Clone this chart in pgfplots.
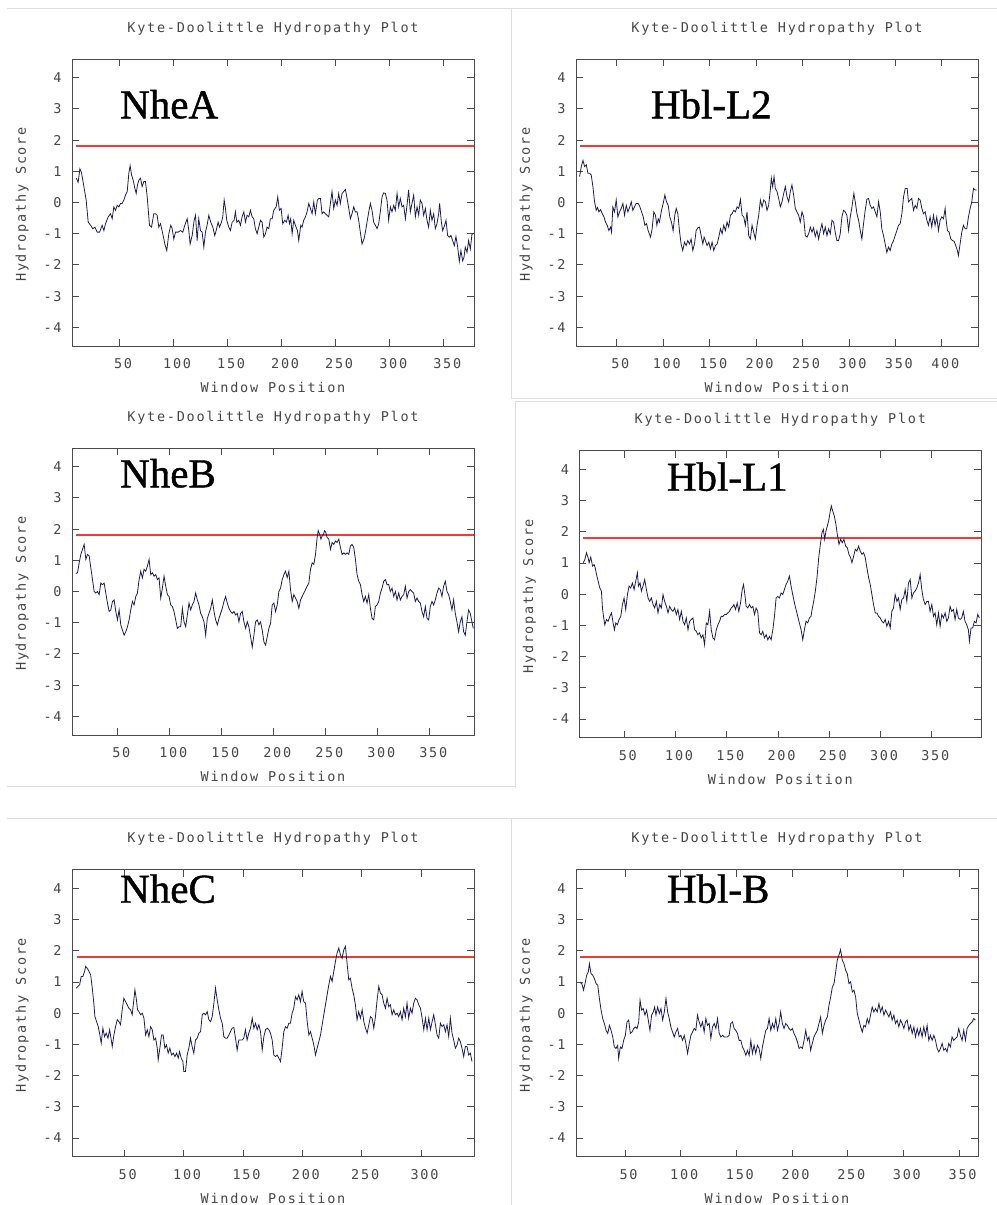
\documentclass[border=0pt]{standalone}
\usepackage{fontspec}
\usepackage{pgfplots}
\pgfplotsset{compat=1.18}
\newfontfamily\monof[LetterSpace=13]{DejaVu Sans Mono}
\newfontfamily\labf[FakeBold=1]{Liberation Serif}
\definecolor{txtgray}{RGB}{70,70,70}
\definecolor{framegray}{RGB}{75,75,75}
\definecolor{curve}{RGB}{28,28,84}
\definecolor{thr}{RGB}{238,60,48}
\definecolor{sep}{RGB}{222,222,222}
\newcommand{\mf}{\monof\fontsize{13.5bp}{15bp}\selectfont}
\newcommand{\panellab}{\labf\fontsize{41bp}{41bp}\selectfont}
\pgfplotsset{
  kd/.style={
    scale only axis, width=402bp, height=287bp, anchor=south west,
    xmin=6, ymin=-4.6, ymax=4.6,
    ytick={-4,-3,-2,-1,0,1,2,3,4},
    yticklabels={-4,-3,-2,-1,0,1,2,3,4},
    axis line style={framegray, line width=0.9bp},
    every tick/.style={framegray, line width=0.9bp},
    major tick length=7bp,
    tick align=inside,
    xticklabel style={font=\mf, text=txtgray, anchor=base, inner sep=0pt, yshift=-22.3bp, xshift=3.5bp},
    yticklabel style={font=\mf, text=txtgray, anchor=east, inner sep=0pt, xshift=-10.2bp},
    title={Kyte-Doolittle Hydropathy Plot},
    title style={font=\mf, text=txtgray, at={(axis description cs:0.5,1.0732)}, anchor=base, inner sep=0pt},
    xlabel={Window Position},
    xlabel style={font=\mf, text=txtgray, at={(axis description cs:0.5,-0.162)}, anchor=base, inner sep=0pt},
    ylabel={Hydropathy Score},
    ylabel style={font=\mf, text=txtgray, at={(axis description cs:-0.115,0.493)}, anchor=base, inner sep=0pt},
    clip=true,
  },
  kdline/.style={curve, line width=0.8bp, no marks},
  thrline/.style={thr, line width=1.9bp, no marks},
}
\begin{document}
\begin{tikzpicture}
\useasboundingbox (0bp,0bp) rectangle (997bp,-1205bp);
% faint screenshot separators
\draw[sep, line width=0.8bp] (7bp,-8.3bp) -- (997bp,-8.3bp);
\draw[sep, line width=0.8bp] (511.7bp,-8.3bp) -- (511.7bp,-398bp) -- (997bp,-398bp);
\draw[sep, line width=0.8bp] (515bp,-788bp) -- (515bp,-401bp) -- (997bp,-401bp);
\draw[sep, line width=0.8bp] (7bp,-786.7bp) -- (515bp,-786.7bp);
\draw[sep, line width=0.8bp] (7bp,-818.3bp) -- (997bp,-818.3bp);
\draw[sep, line width=0.8bp] (511.7bp,-818.3bp) -- (511.7bp,-1205bp);

% ---------------- NheA ----------------
\begin{axis}[kd, at={(72bp,-346bp)}, xmax=378,
  xtick={50,100,150,200,250,300,350}, xticklabels={50,100,150,200,250,300,350}]
\addplot[thrline] coordinates {(10,1.8) (378,1.8)};
\addplot[kdline] table {
9.9 0.78
11.7 0.65
13.3 1.08
14.8 0.96
17.0 0.51
19.1 0.08
21.0 -0.63
23.2 -0.73
25.3 -0.84
27.2 -0.79
29.3 -0.95
31.5 -0.95
33.9 -0.73
35.5 -0.90
37.0 -0.68
39.5 -0.46
41.7 -0.36
43.2 -0.52
44.7 -0.14
46.3 -0.25
47.8 -0.09
49.4 -0.14
50.9 -0.03
52.4 -0.03
54.0 0.08
55.5 0.24
57.1 0.35
58.6 0.94
59.8 1.18
61.1 0.88
62.6 0.72
64.2 0.45
65.4 0.29
66.6 0.56
67.9 0.72
69.4 0.78
70.9 0.51
72.5 0.67
74.0 0.67
75.6 0.18
77.7 -0.73
79.6 -0.79
81.7 -0.36
83.3 -0.36
84.8 -0.41
86.3 -0.79
87.9 -0.68
90.0 -1.00
91.9 -1.33
93.7 -1.54
95.6 -1.00
97.4 -0.73
98.7 -0.84
100.2 -1.17
101.8 -0.95
104.2 -0.95
106.4 -0.90
108.5 -0.95
110.4 -0.73
112.6 -0.52
114.1 -0.90
115.3 -1.33
117.2 -1.06
119.0 -0.57
120.3 -0.41
121.8 -1.22
123.3 -0.52
124.9 -0.90
126.4 -0.95
128.0 -1.43
129.5 -0.95
131.0 -0.73
132.6 -0.41
134.4 -0.63
136.3 -0.79
138.1 -1.06
139.4 -0.90
141.2 -0.63
142.5 -0.79
144.3 -0.63
145.5 -0.46
146.8 0.08
148.0 -0.19
149.2 -0.57
151.1 -0.79
152.6 -0.90
154.2 -0.63
156.0 -0.57
157.2 -0.30
158.5 -0.63
160.3 -0.57
161.9 -0.73
163.4 -0.46
165.0 -0.30
166.5 -0.63
168.0 -0.41
169.6 -0.46
171.1 -0.25
172.7 -0.46
174.2 -0.52
175.7 -0.84
177.3 -1.00
178.8 -0.79
180.4 -0.57
181.9 -0.63
183.5 -1.11
185.0 -1.00
186.5 -0.79
188.1 -0.84
189.6 -0.52
191.2 -0.52
192.7 -0.25
194.9 -0.14
196.4 0.18
197.9 -0.25
199.5 -0.19
201.0 -0.68
202.9 -0.57
204.4 -0.63
206.0 -0.41
207.2 -0.68
208.4 -0.52
209.7 -1.00
211.2 -0.57
212.7 -0.73
214.6 -0.90
215.8 -1.22
217.7 -0.73
218.9 -0.79
220.4 -0.57
222.0 -0.46
223.5 -0.30
225.1 -0.03
226.6 -0.19
228.2 -0.36
229.7 0.02
231.2 -0.36
233.1 0.08
234.3 0.13
235.9 0.13
237.4 -0.36
238.9 -0.30
240.5 -0.36
242.0 -0.41
243.6 -0.46
245.1 -0.03
246.6 0.35
248.2 -0.19
249.7 0.08
251.3 -0.09
252.8 0.29
254.3 -0.03
255.9 0.29
257.4 0.35
259.0 0.42
260.8 0.08
262.1 -0.19
263.6 -0.52
265.1 -0.36
266.7 -0.14
268.2 -0.30
269.8 -0.30
271.3 -0.57
272.8 -0.95
274.4 -1.33
276.2 -1.17
277.5 -0.95
279.0 -0.63
280.6 -0.30
282.1 -0.03
283.6 -0.25
285.2 -0.63
286.7 -0.73
288.3 -0.84
289.8 -0.68
291.3 -0.30
292.9 0.18
294.4 0.31
296.0 0.29
297.5 0.08
299.0 -0.57
300.6 -0.14
302.1 -0.30
303.7 -0.09
305.2 -0.25
306.8 0.29
308.3 -0.14
309.8 0.13
311.4 -0.14
312.9 -0.09
314.5 -0.52
316.0 -0.09
317.5 0.40
319.1 -0.30
320.6 -0.03
322.2 0.24
323.7 -0.46
325.3 -0.14
326.8 -0.41
328.3 0.08
329.9 -0.03
331.4 -0.41
333.0 -0.19
334.5 -0.57
336.0 -0.79
337.6 -0.25
339.1 -0.57
340.7 -0.36
342.2 -0.84
343.7 -0.68
345.3 -0.36
346.2 -0.03
347.8 -0.63
349.0 -0.90
350.8 -0.73
352.1 -0.57
353.6 -1.06
355.2 -1.11
356.7 -1.06
358.2 -1.22
359.8 -1.38
361.3 -1.09
362.9 -1.43
364.4 -1.89
365.9 -1.54
367.5 -1.87
368.7 -1.76
369.9 -1.43
371.5 -1.60
373.0 -1.22
374.6 -1.49
376.1 -1.02
377.5 -0.98
};
\end{axis}

% ---------------- Hbl-L2 ----------------
\begin{axis}[kd, at={(576bp,-346bp)}, xmax=439,
  xtick={50,100,150,200,250,300,350,400}, xticklabels={50,100,150,200,250,300,350,400}]
\addplot[thrline] coordinates {(10,1.8) (439,1.8)};
\addplot[kdline] table {
9.9 0.83
11.7 1.15
13.5 1.35
15.3 1.15
17.1 1.21
18.8 0.94
20.6 0.94
22.4 0.88
24.2 0.51
26.0 0.02
27.8 -0.25
29.2 -0.16
30.7 -0.30
32.5 -0.23
34.3 -0.36
36.1 -0.46
37.8 -0.63
39.6 -0.73
41.4 -0.90
43.2 -0.79
44.3 -0.95
45.7 -0.14
47.5 -0.30
49.3 0.08
51.1 -0.46
52.9 -0.30
54.7 -0.19
56.5 -0.03
58.3 -0.41
60.1 -0.09
61.9 -0.30
63.7 -0.16
65.5 0.02
67.2 -0.25
69.0 -0.14
70.8 -0.03
73.0 -0.03
74.8 -0.14
76.6 -0.30
78.4 -0.46
80.2 -0.73
82.0 -0.68
83.7 -0.90
86.3 -1.11
88.0 -0.84
89.8 -0.30
91.6 -0.41
93.1 -0.73
94.5 -0.52
95.9 -0.63
98.1 -0.25
99.9 -0.03
101.7 0.24
103.5 0.02
105.3 -0.09
107.0 -0.46
108.8 -0.63
110.6 -0.90
112.4 -0.41
113.9 -0.19
115.7 -0.36
117.4 -0.90
119.2 -1.33
121.0 -1.54
122.8 -1.27
124.6 -1.38
126.4 -1.22
128.2 -1.33
130.0 -1.17
131.8 -1.54
133.6 -1.33
135.4 -0.90
137.2 -0.81
139.0 -0.79
140.8 -1.06
142.6 -1.33
144.0 -1.11
145.4 -1.22
147.2 -1.38
149.0 -1.27
150.8 -1.49
152.6 -1.27
154.4 -1.54
156.2 -1.38
158.0 -1.33
159.8 -1.11
161.6 -0.84
163.4 -1.00
165.1 -0.73
166.9 -0.90
168.7 -0.63
170.5 -0.79
172.3 -0.41
174.1 -0.36
175.9 -0.25
177.7 -0.30
179.5 -0.14
181.3 -0.19
183.1 0.10
184.9 -0.41
186.7 -0.46
188.4 -0.73
190.2 -0.30
192.0 -1.06
193.8 -1.17
195.6 -0.73
197.4 -0.95
199.2 -1.17
201.0 -0.73
202.8 -0.41
204.6 0.08
206.4 -0.14
208.2 0.08
210.0 0.02
211.7 -0.25
213.5 -0.09
215.3 0.40
216.4 0.78
217.8 0.51
219.3 0.83
220.7 0.45
222.5 0.35
224.3 0.13
226.1 -0.14
227.9 0.02
229.7 0.29
231.5 0.51
233.3 0.18
235.1 0.02
236.8 0.35
238.6 0.56
240.4 0.24
242.2 -0.19
244.0 -0.30
245.8 -0.41
247.6 -0.63
249.4 -0.30
251.2 -0.46
253.0 -1.06
254.8 -1.11
256.6 -1.00
258.4 -0.79
260.2 -0.95
261.9 -0.81
263.7 -1.09
265.5 -0.90
267.3 -1.17
269.1 -0.90
270.9 -0.68
272.7 -1.00
274.5 -0.79
276.3 -1.06
278.1 -0.84
279.9 -1.00
281.7 -0.57
283.5 -0.63
285.2 -0.95
287.0 -1.22
288.8 -1.22
290.6 -1.00
292.4 -0.46
294.2 -0.25
296.0 -0.30
297.8 -0.41
299.6 -0.90
301.4 -0.46
303.2 -0.14
305.3 0.29
306.8 0.02
308.6 -0.36
310.4 -0.57
312.2 -0.90
313.9 -1.17
315.7 -0.68
317.5 -0.25
319.3 0.10
321.1 0.13
322.9 -0.09
324.7 -0.19
326.5 -0.14
328.3 -0.30
330.1 -0.46
331.9 0.02
333.7 -0.30
335.4 -0.84
337.2 -1.06
339.0 -1.33
340.8 -1.60
342.6 -1.43
344.4 -1.54
346.2 -1.33
348.0 -1.22
349.8 -1.06
351.6 -0.90
353.4 -0.73
355.2 -0.68
357.0 -0.36
358.8 0.18
360.6 0.45
362.7 0.45
364.1 0.02
365.9 0.08
367.7 0.13
369.5 -0.25
371.3 -0.09
373.1 -0.19
374.9 0.13
376.7 0.08
378.5 -0.19
380.3 -0.36
382.1 -0.30
383.9 -0.57
385.6 -0.73
387.4 -0.46
389.2 -0.79
391.0 -0.41
392.8 -0.73
394.6 -0.46
396.4 -0.90
398.2 -0.57
400.0 -0.46
401.8 -0.52
403.6 -0.19
404.7 -0.57
406.1 -0.90
407.9 -0.95
409.7 -1.17
411.5 -1.22
413.2 -1.24
415.0 -1.38
416.8 -1.54
417.9 -1.70
419.7 -1.33
421.5 -0.95
423.3 -0.73
425.1 -0.84
426.9 -0.84
428.7 -0.46
430.5 -0.19
432.3 0.02
434.1 0.45
435.9 0.40
437.6 0.40
};
\end{axis}

% ---------------- NheB ----------------
\begin{axis}[kd, at={(72bp,-735bp)}, xmax=392.5,
  xtick={50,100,150,200,250,300,350}, xticklabels={50,100,150,200,250,300,350}]
\addplot[thrline] coordinates {(10,1.8) (392.5,1.8)};
\addplot[kdline] table {
9.7 0.58
11.3 0.60
12.9 0.92
14.5 1.19
16.1 1.35
17.7 1.51
19.3 1.03
20.9 1.19
22.5 1.14
24.1 0.76
25.7 0.38
27.3 0.00
28.9 -0.05
30.5 0.00
32.1 -0.10
33.7 0.27
35.3 0.22
36.9 0.27
38.5 -0.05
40.1 -0.37
41.7 -0.64
43.3 -0.59
44.9 -0.32
46.5 -0.27
48.1 -0.64
49.7 -0.91
51.3 -0.59
52.9 -1.07
54.5 -1.24
56.1 -1.40
57.7 -1.29
59.3 -1.13
60.9 -0.91
62.5 -0.59
64.1 -0.32
65.7 -0.43
67.3 -0.16
68.9 -0.05
70.5 0.38
72.1 0.65
73.7 0.44
75.3 0.71
76.9 0.65
78.5 0.81
80.1 1.03
81.7 0.54
83.3 0.60
84.9 0.49
86.5 0.54
88.1 0.38
89.7 0.44
91.3 -0.21
92.9 0.11
94.5 0.49
96.1 0.17
97.7 -0.10
99.3 -0.16
100.9 -0.43
102.5 -0.48
104.1 -0.64
105.7 -0.91
107.3 -1.18
108.9 -1.13
110.5 -1.13
112.1 -0.54
113.7 -0.97
115.3 -1.13
116.9 -0.75
118.5 -0.37
120.1 -0.59
121.7 -0.43
123.3 -0.32
124.9 -0.05
126.5 -0.27
128.1 -0.43
129.7 -0.70
131.3 -0.81
132.9 -0.97
134.5 -1.40
136.1 -0.86
137.7 -0.70
139.3 -0.54
140.9 -0.27
142.5 -0.64
144.1 -0.91
145.7 -1.07
147.3 -0.86
148.9 -0.70
150.5 -0.54
152.1 -0.32
153.7 -0.16
155.3 -0.37
156.9 -0.54
158.5 -0.64
160.1 -0.70
161.7 -0.64
163.3 -0.75
164.9 -0.70
166.5 -0.97
168.1 -0.70
169.7 -0.64
171.3 -0.97
172.9 -1.18
174.5 -0.97
176.1 -1.13
177.7 -1.45
179.3 -1.78
180.9 -1.40
182.5 -0.97
184.1 -0.91
185.7 -1.07
187.3 -0.97
188.9 -1.24
190.5 -1.61
192.1 -1.72
193.7 -1.45
195.3 -1.18
196.9 -1.02
198.5 -0.43
200.1 -0.37
201.7 -0.64
203.3 -0.43
204.9 0.00
206.5 0.11
208.1 0.38
209.7 0.54
211.3 0.65
212.9 0.44
214.5 0.65
216.1 0.06
217.7 -0.32
219.3 -0.10
220.9 -0.21
222.5 -0.32
224.1 -0.54
225.7 -0.27
227.3 -0.16
228.9 -0.05
230.5 0.06
232.1 0.17
233.7 0.27
235.3 0.71
236.9 0.92
238.5 0.87
240.1 1.19
241.7 1.73
242.7 1.95
244.0 1.84
245.3 1.68
246.6 1.78
247.9 1.84
248.8 1.95
249.8 1.91
251.3 1.73
252.9 1.68
254.5 1.35
256.1 1.57
257.7 1.51
259.3 1.62
260.9 1.57
262.5 1.68
264.1 1.41
265.7 1.19
267.3 1.24
268.9 1.19
270.5 1.24
272.1 1.19
273.7 1.46
275.3 1.51
276.9 1.41
278.5 1.03
280.1 0.54
281.7 0.33
283.3 0.22
284.9 -0.10
286.5 -0.32
288.1 -0.16
289.7 -0.37
291.3 -0.10
292.9 -0.54
294.5 -0.86
296.1 -0.91
297.7 -0.48
299.3 -0.43
300.9 -0.32
302.5 -0.05
304.1 0.11
305.7 0.33
307.3 0.38
308.9 0.22
310.5 0.22
312.1 0.00
313.7 0.11
315.3 -0.16
316.9 0.00
318.5 -0.27
320.1 -0.05
321.7 -0.27
323.3 -0.16
324.9 -0.10
326.5 0.17
328.1 -0.21
329.7 0.00
331.3 0.06
332.9 0.00
334.5 -0.05
336.1 -0.32
337.7 -0.21
339.3 -0.32
340.9 -0.37
342.5 -0.64
344.1 -0.81
345.7 -0.48
347.3 -0.86
348.9 -0.91
350.5 -0.48
352.1 -0.32
353.7 -0.43
355.3 -0.27
356.9 -0.05
358.5 0.11
360.1 0.06
361.7 -0.16
363.3 0.17
364.9 0.33
366.5 0.00
368.1 -0.10
369.7 -0.32
371.3 -0.59
372.9 -0.27
374.5 -0.70
376.1 -0.97
377.7 -1.29
379.3 -0.97
380.9 -0.81
382.5 -1.29
384.1 -1.40
385.7 -0.97
387.3 -0.59
388.9 -0.70
390.5 -0.97
391.8 -1.18
};
\end{axis}

% ---------------- Hbl-L1 ----------------
\begin{axis}[kd, at={(579.3bp,-737.7bp)}, xmax=398.4,
  xtick={50,100,150,200,250,300,350}, xticklabels={50,100,150,200,250,300,350}]
\addplot[thrline] coordinates {(10,1.8) (398.4,1.8)};
\addplot[kdline] table {
9.8 1.01
11.4 1.11
13.0 1.33
14.6 1.17
15.6 1.01
17.2 1.19
18.9 0.90
20.5 0.95
21.5 0.85
22.8 0.63
24.4 0.42
26.0 0.20
27.6 0.10
28.6 -0.44
29.6 -0.71
30.9 -0.98
32.5 -0.81
34.1 -0.87
35.8 -0.71
37.4 -0.60
39.0 -0.92
40.3 -1.14
41.6 -0.92
43.2 -0.98
44.8 -0.81
46.5 -0.71
48.1 -0.33
49.7 -0.12
51.3 -0.49
53.0 -0.01
54.6 0.26
56.2 0.20
57.8 0.36
59.5 0.15
61.1 0.42
62.7 0.69
63.7 0.26
65.3 0.36
66.6 0.10
68.2 0.26
69.8 0.47
71.5 0.15
73.1 -0.12
74.7 -0.23
76.3 -0.12
78.0 -0.33
79.6 -0.44
81.2 -0.23
82.8 -0.60
84.5 -0.33
86.1 -0.44
87.7 -0.01
89.3 -0.23
91.0 -0.39
92.6 -0.60
94.2 -0.39
95.8 -0.49
97.4 -0.55
99.1 -0.44
100.7 -0.65
102.3 -0.49
103.9 -0.81
105.6 -0.55
107.2 -0.87
108.8 -0.98
110.4 -0.76
112.1 -1.14
113.7 -0.87
115.3 -0.81
116.9 -0.76
118.6 -1.14
120.2 -1.19
121.8 -1.30
123.4 -1.24
125.0 -1.40
126.7 -1.30
128.3 -1.62
129.9 -0.92
131.5 -0.98
133.2 -0.55
134.8 -1.14
136.4 -1.40
138.0 -1.46
139.7 -1.14
141.3 -0.98
142.9 -0.87
144.5 -0.71
146.2 -0.71
147.8 -0.65
149.4 -0.65
151.0 -0.60
152.6 -0.55
154.3 -0.44
155.9 -0.39
156.9 -0.33
158.5 -0.49
160.1 -0.28
161.7 -0.55
163.4 -0.28
165.0 0.15
166.3 0.31
167.6 -0.01
168.9 -0.39
170.5 -0.44
172.1 -0.33
173.8 -0.44
175.4 -0.39
177.0 -0.65
178.6 -0.44
180.2 -0.55
181.9 -1.24
183.5 -1.30
185.1 -1.19
186.7 -1.40
188.4 -1.30
190.0 -1.46
191.6 -1.35
193.2 -1.46
194.9 -1.14
196.5 -0.71
198.1 -0.12
199.7 -0.07
201.3 -0.12
203.0 0.04
204.6 -0.01
206.2 0.15
207.8 0.31
209.5 0.42
211.1 0.58
212.7 0.26
214.3 -0.01
216.0 -0.28
217.6 -0.49
219.2 -0.71
220.8 -0.92
222.5 -1.14
224.1 -1.46
225.7 -1.14
227.3 -0.87
229.0 -0.92
230.6 -0.76
232.2 -0.71
233.2 -0.49
234.8 -0.23
236.4 0.10
238.0 0.53
239.7 1.17
241.3 1.60
242.9 1.97
244.2 2.08
245.5 1.76
246.8 2.03
248.1 2.19
249.4 2.35
251.0 2.67
252.0 2.83
253.3 2.67
254.9 2.51
256.5 2.24
257.8 1.92
259.5 1.60
261.1 1.76
262.7 1.65
264.3 1.76
266.0 1.54
267.6 1.49
269.2 1.28
270.8 1.17
272.1 1.01
273.8 1.22
275.4 1.44
277.0 1.38
278.6 1.54
280.2 1.38
281.9 1.28
283.5 1.33
285.1 1.17
286.7 0.85
288.4 0.53
290.0 0.31
291.6 -0.01
293.2 -0.33
294.9 -0.60
296.5 -0.60
298.1 -0.71
299.7 -0.76
301.4 -0.87
303.0 -0.92
304.6 -0.81
306.2 -1.03
307.9 -0.87
309.5 -1.08
311.1 -0.55
312.7 -0.44
314.3 -0.01
316.0 -0.23
317.6 -0.12
319.2 -0.49
320.8 -0.17
322.5 -0.12
324.1 0.15
325.7 -0.23
327.3 0.36
329.0 0.47
330.6 -0.12
332.2 0.04
333.8 0.10
335.4 0.20
337.1 0.36
338.7 0.63
340.3 0.15
341.9 -0.17
343.6 -0.33
345.2 -0.23
346.8 -0.23
348.4 -0.55
350.1 -0.33
351.7 -0.71
353.3 -0.60
354.9 -0.98
356.6 -0.60
358.2 -1.03
359.8 -0.65
361.4 -0.76
363.1 -0.60
364.7 -0.87
366.3 -0.76
367.9 -0.39
369.5 -0.55
371.2 -0.49
372.8 -0.81
374.4 -0.49
376.0 -0.76
377.7 -0.81
379.3 -0.76
380.9 -0.55
382.5 -0.87
384.2 -0.98
385.8 -1.14
386.8 -1.51
388.4 -1.08
390.0 -1.08
391.6 -0.87
393.3 -0.92
394.9 -0.65
396.5 -0.76
};
\end{axis}

% ---------------- NheC ----------------
\begin{axis}[kd, at={(72bp,-1156.7bp)}, xmax=344.6,
  xtick={50,100,150,200,250,300}, xticklabels={50,100,150,200,250,300}]
\addplot[thrline] coordinates {(10,1.8) (344.6,1.8)};
\addplot[kdline] table {
9.6 0.80
11.0 0.86
12.4 0.91
13.8 1.18
15.2 1.18
16.6 1.34
17.5 1.50
18.9 1.44
20.3 1.34
21.7 1.23
23.1 0.80
24.5 0.27
25.3 -0.11
26.7 -0.27
28.1 -0.43
29.5 -0.70
30.6 -0.96
32.0 -0.48
33.4 -0.75
34.8 -0.64
36.3 -0.80
37.7 -0.53
39.1 -0.86
39.9 -1.07
41.3 -0.70
42.7 -0.43
44.1 -0.21
45.5 -0.27
46.9 -0.37
48.3 0.11
49.7 0.48
51.1 0.37
52.5 0.27
53.9 0.16
55.3 0.11
56.7 -0.05
58.1 0.43
59.0 0.75
60.1 0.48
61.2 0.11
62.4 0.05
63.8 -0.05
65.2 0.00
66.6 -0.16
68.0 -0.70
69.4 -0.53
70.8 -0.75
72.2 -0.43
73.6 -0.53
75.0 -0.86
76.4 -0.80
77.8 -1.12
78.6 -1.50
80.0 -1.12
81.4 -0.70
82.8 -0.70
84.2 -1.12
85.6 -1.02
87.0 -1.28
88.4 -1.12
89.9 -1.34
91.3 -1.28
92.7 -1.39
94.1 -1.28
95.5 -1.44
96.6 -1.23
98.0 -1.44
99.4 -1.55
100.2 -1.87
101.6 -1.87
103.0 -1.34
104.4 -1.12
105.8 -0.80
107.2 -1.07
108.6 -1.28
110.0 -0.86
111.5 -0.80
112.9 -0.64
114.3 -0.59
115.7 -0.05
117.1 0.00
118.5 -0.05
119.9 0.05
121.3 -0.21
122.7 -0.27
124.1 -0.11
125.5 0.32
126.9 0.80
128.3 0.43
129.7 0.11
131.1 -0.16
132.5 -0.32
133.9 -0.75
135.3 -0.80
136.7 -0.80
138.1 -0.70
139.5 -0.59
140.9 -0.48
142.3 -0.46
143.7 -0.80
145.1 -1.18
146.5 -0.86
147.9 -0.86
149.3 -0.86
150.7 -0.80
152.1 -0.53
153.5 -0.86
154.9 -0.64
156.4 -0.48
157.8 -0.16
159.2 -0.48
160.6 -0.32
162.0 -0.53
163.4 -0.37
164.8 -0.59
166.2 -1.18
167.6 -0.75
169.0 -0.53
170.4 -0.48
171.8 -0.53
173.2 -0.64
174.6 -0.86
176.0 -1.34
177.4 -1.39
178.8 -1.34
180.2 -1.44
181.6 -1.55
183.0 -1.12
184.4 -0.59
185.8 -0.43
187.2 -0.48
188.6 -0.32
190.0 -0.32
191.4 0.00
192.8 0.16
194.2 0.53
195.6 0.43
197.0 0.59
198.4 0.37
199.8 0.70
201.2 0.37
202.7 0.32
204.1 -0.27
205.5 -0.70
206.9 -0.59
208.3 -0.80
209.7 -1.02
211.1 -1.34
212.5 -1.12
213.9 -0.91
215.3 -0.70
216.7 -0.37
218.1 -0.05
219.5 0.27
220.9 0.59
222.3 0.91
223.7 1.18
225.1 1.02
226.5 1.34
227.9 1.66
229.3 1.93
230.7 2.09
232.1 1.87
233.5 1.76
234.9 2.03
236.3 2.14
237.7 1.60
239.1 1.07
240.5 1.12
241.9 0.80
243.3 0.59
244.7 0.27
246.1 -0.21
247.5 0.05
248.9 -0.16
250.4 0.11
251.8 -0.27
253.2 -0.48
254.6 -0.64
256.0 -0.37
257.4 -0.11
258.8 -0.16
260.2 -0.48
261.6 -0.11
263.0 0.43
264.4 0.86
265.8 0.64
267.2 0.59
268.6 0.32
270.0 0.16
271.4 0.48
272.8 0.21
274.2 0.27
275.6 -0.05
277.0 0.11
278.4 -0.05
279.8 0.00
281.2 -0.11
282.6 0.05
284.0 -0.21
285.4 0.16
286.8 -0.11
288.2 0.32
289.6 -0.16
291.0 0.16
292.4 0.00
293.8 0.32
295.2 0.48
296.6 0.43
298.1 0.27
299.5 0.16
300.9 -0.16
302.3 -0.53
303.7 -0.16
305.1 -0.53
306.5 -0.16
307.9 -0.53
309.3 -0.27
310.7 -0.05
312.1 -0.37
313.5 -0.70
314.9 -0.80
316.3 -0.32
317.7 -0.43
319.1 -0.37
320.5 -0.59
321.9 -0.37
323.3 -0.75
324.7 -0.16
326.1 -0.64
327.5 -0.86
328.9 -1.12
330.3 -1.02
331.7 -0.80
333.1 -0.91
334.5 -1.12
335.9 -1.39
337.3 -1.07
338.7 -1.07
340.1 -1.34
341.5 -1.28
342.9 -1.55
};
\end{axis}

% ---------------- Hbl-B ----------------
\begin{axis}[kd, at={(576bp,-1156.7bp)}, xmax=367,
  xtick={50,100,150,200,250,300,350}, xticklabels={50,100,150,200,250,300,350}]
\addplot[thrline] coordinates {(10,1.8) (367,1.8)};
\addplot[kdline] table {
9.7 0.98
11.2 0.95
12.7 0.74
14.1 0.95
15.6 1.22
17.1 1.33
18.0 1.59
19.5 1.27
21.0 1.22
22.5 1.11
24.0 0.95
25.5 0.90
27.0 0.47
28.5 0.10
30.0 -0.17
31.5 -0.33
33.0 -0.55
34.5 -0.65
36.0 -0.39
37.5 -0.55
39.0 -0.76
40.4 -1.08
41.9 -1.13
43.4 -1.03
44.3 -1.45
45.8 -1.08
47.3 -1.13
48.8 -0.87
50.3 -0.71
51.8 -0.28
53.3 -0.22
54.8 -0.65
56.3 -0.60
57.8 -0.49
59.3 -0.44
60.8 -0.49
62.3 -0.28
63.5 0.42
64.9 0.10
66.4 0.15
67.9 -0.06
69.4 0.10
70.9 -0.22
72.4 -0.55
73.9 -0.06
75.4 0.04
76.6 0.20
77.8 -0.06
79.3 0.20
80.8 -0.01
82.3 0.15
83.8 -0.22
85.3 0.04
86.8 0.47
88.3 0.04
89.7 -0.17
91.2 -0.44
92.7 -0.60
94.2 -0.76
95.7 -0.60
97.2 -0.49
98.7 -0.76
100.2 -0.71
101.7 -0.87
103.2 -0.71
104.7 -0.97
106.2 -1.29
107.7 -0.97
109.2 -0.71
110.7 -0.60
112.2 -0.49
113.6 -0.55
115.1 -0.06
116.6 -0.28
118.1 -0.44
119.6 -0.28
121.1 -0.60
122.6 -0.17
124.1 -0.39
125.6 -0.33
127.1 -0.81
128.6 -0.44
130.1 -0.33
131.6 -0.49
133.1 -0.17
134.6 -0.65
136.1 -0.76
137.6 -0.71
139.0 -0.76
140.5 -0.76
142.0 -0.76
143.5 -0.71
145.0 -0.33
146.5 -0.28
148.0 -0.49
149.5 -0.55
151.0 -0.65
152.5 -0.87
154.0 -0.87
155.5 -1.08
157.0 -1.19
158.5 -1.35
160.0 -1.19
161.5 -1.35
163.0 -0.87
164.4 -1.29
165.9 -1.03
167.4 -1.29
168.9 -1.03
170.4 -1.13
171.9 -1.45
173.4 -1.08
174.9 -0.81
176.4 -0.55
177.9 -0.49
179.4 -0.17
180.9 -0.55
182.4 -0.33
183.9 -0.49
185.4 -0.17
186.9 -0.55
188.4 -0.33
189.8 0.04
191.3 -0.33
192.8 -0.49
194.3 -0.33
195.8 -0.39
197.3 -0.49
198.8 -0.55
200.3 -0.49
201.8 -0.65
203.3 -0.76
204.8 -0.92
206.3 -1.13
207.8 -1.08
209.3 -1.13
210.8 -0.87
212.3 -0.55
213.8 -0.87
215.2 -0.76
216.7 -1.19
218.2 -0.97
219.7 -0.76
221.2 -0.65
222.7 -0.55
224.2 -0.33
225.7 -0.12
227.2 -0.65
228.7 -0.39
230.2 -0.22
231.7 -0.12
233.2 0.26
234.7 0.52
236.2 0.84
237.7 0.95
239.2 1.33
240.6 1.70
242.1 1.86
243.6 2.04
245.1 1.70
246.6 1.59
248.1 1.38
249.6 1.27
251.1 0.95
252.6 1.01
254.1 0.68
255.6 0.74
257.1 0.52
258.6 -0.01
260.1 -0.22
261.6 -0.44
263.1 -0.60
264.5 -0.39
266.0 -0.44
267.5 -0.17
269.0 -0.33
270.5 -0.06
272.0 0.20
273.5 0.04
275.0 0.15
276.5 0.04
278.0 0.31
279.5 0.04
281.0 0.20
282.5 -0.06
284.0 0.10
285.5 -0.01
287.0 -0.12
288.4 0.04
289.9 -0.22
291.4 -0.06
292.9 -0.33
294.4 -0.22
295.9 -0.44
297.4 -0.22
298.9 -0.33
300.4 -0.49
301.9 -0.28
303.4 -0.22
304.9 -0.55
306.4 -0.39
307.9 -0.65
309.4 -0.44
310.9 -0.76
312.4 -0.49
313.8 -0.71
315.3 -0.49
316.8 -0.76
318.3 -0.44
319.8 -0.71
321.3 -0.39
322.8 -0.87
324.3 -0.71
325.8 -0.87
327.3 -0.71
328.8 -0.87
330.3 -1.13
331.8 -1.24
333.3 -1.13
334.8 -0.97
336.3 -1.19
337.8 -1.13
339.2 -1.24
340.7 -0.97
342.2 -1.08
343.7 -0.76
345.2 -0.87
346.7 -0.81
348.2 -0.76
349.7 -0.49
351.2 -0.71
352.7 -0.87
354.2 -0.55
355.7 -0.87
357.2 -0.49
358.7 -0.39
360.2 -0.33
361.7 -0.28
363.2 -0.17
364.6 -0.22
};
\end{axis}

% panel names
\node[anchor=base west, inner sep=0pt, font=\panellab] at (120bp,-118.3bp) {NheA};
\node[anchor=base west, inner sep=0pt, font=\panellab] at (650.7bp,-118.3bp) {Hbl-L2};
\node[anchor=base west, inner sep=0pt, font=\panellab] at (120bp,-487.3bp) {NheB};
\node[anchor=base west, inner sep=0pt, font=\panellab] at (666.7bp,-490.7bp) {Hbl-L1};
\node[anchor=base west, inner sep=0pt, font=\panellab] at (120bp,-902.7bp) {NheC};
\node[anchor=base west, inner sep=0pt, font=\panellab] at (666.7bp,-902.7bp) {Hbl-B};
\end{tikzpicture}
\end{document}
